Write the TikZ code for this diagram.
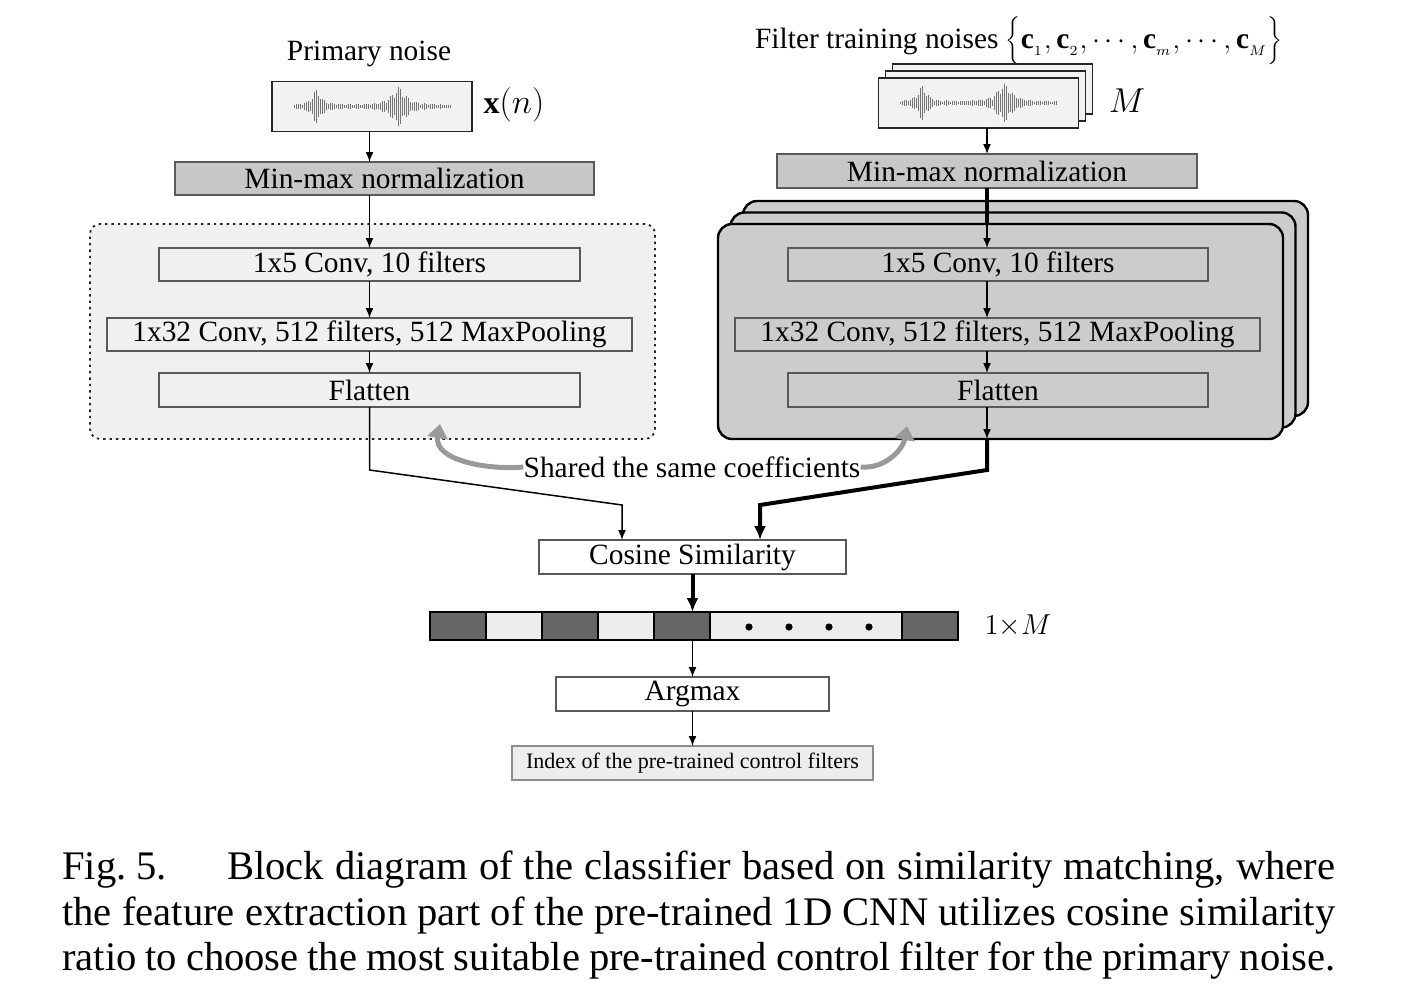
\documentclass[tikz,border=0pt]{standalone}
\usepackage{fontspec}
\setmainfont{Liberation Serif}
\usetikzlibrary{arrows.meta,calc}

\tikzset{
  blk/.style={draw=black!65, line width=0.75pt, inner sep=0pt, outer sep=0pt, minimum height=16.5pt, font=\fontsize{14.7}{17}\selectfont},
  normbox/.style={blk, fill=black!22},
  lightbox/.style={blk, fill=black!6},
  greybox/.style={blk, fill=black!20},
  whitebox/.style={blk, fill=white},
  wavebox/.style={draw=black!85, line width=0.75pt, fill=black!5, inner sep=0pt, outer sep=0pt, minimum width=100pt, minimum height=25pt},
  cnnback/.style={draw=black, line width=1.2pt, fill=black!20, rounded corners=7pt, inner sep=0pt, outer sep=0pt, minimum width=282.5pt, minimum height=107.5pt},
  wire/.style={line width=0.75pt, -{Latex[length=5pt,width=4pt]}},
  thickwire/.style={line width=2pt, -{Latex[length=7pt,width=6pt]}},
  sharearrow/.style={draw=black!40, line width=2.5pt, -{Triangle[length=7pt,width=10pt]}},
  lbl/.style={font=\fontsize{14.7}{17}\selectfont, inner sep=0pt},
  caption/.style={anchor=base west, inner sep=0pt, font=\fontsize{20.3}{24}\selectfont},
}

% little noise burst drawn inside a wave box
\newcommand\noisewave[1]{%
  \begin{scope}[shift={(#1.center)}]
    \foreach \i in {0,...,78}{
      \pgfmathsetmacro\h{(1.5+16/(1+((\i-11)/2.5)^2)+18/(1+((\i-52)/4)^2))*(0.45+0.55*abs(sin(\i*137)))}
      \draw[black!55, line width=0.5pt] ({(\i-39)*2},-\h) -- ({(\i-39)*2},\h);
    }
  \end{scope}}

\begin{document}
\begin{tikzpicture}[x=0.5pt,y=-0.5pt]
\useasboundingbox (0,0) rectangle (1418,1006);

% left branch: primary noise
\node[lbl] (primary) at (369,54) {Primary noise};
\node[wavebox] (wavL) at (372,106.5) {};
\noisewave{wavL}
\node[lbl, font=\fontsize{16}{18}\selectfont] (xn) at (514,105) {$\mathbf{x}(n)$};
\node[normbox, minimum width=209.5pt] (normL) at (384.5,178.5) {Min-max normalization};
\node[cnnback, dotted, draw=black!85, line width=0.9pt, fill=black!6, rounded corners=5pt] (cnnL) at (372.5,331.5) {};
\node[lightbox, minimum width=210.5pt] (convL) at (369.5,264.5) {1x5 Conv, 10 filters};
\node[lightbox, minimum width=262.5pt] (poolL) at (369.5,334.5) {1x32 Conv, 512 filters, 512 MaxPooling};
\node[lightbox, minimum width=210.5pt, minimum height=17pt] (flatL) at (369.5,390) {Flatten};
\draw[wire] (convL.north |- wavL.south) -- (convL.north |- normL.north);
\draw[wire] (convL.north |- normL.south) -- (convL.north);
\draw[wire] (convL.south) -- (poolL.north);
\draw[wire] (poolL.south) -- (flatL.north);

% right branch: filter training noises
\node[lbl] (filt) at (1019,41) {Filter training noises $\bigg\{\mathbf{c}_{_1},\mathbf{c}_{_2},\cdots,\mathbf{c}_{_m},\cdots,\mathbf{c}_{_M}\bigg\}$};
\foreach \d in {14,7} \node[wavebox] at (978.5+\d,103-\d) {};
\node[wavebox] (wavR) at (978.5,103) {};
\noisewave{wavR}
\node[lbl, font=\fontsize{16}{18}\selectfont] (mR) at (1127,101) {$M$};
\node[normbox, minimum width=210pt, minimum height=17pt] (normR) at (987,171) {Min-max normalization};
\foreach \d/\e in {25/23,12.5/11.5} \node[cnnback] at (1000.5+\d,331.5-\e) {};
\node[cnnback] (cnnR) at (1000.5,331.5) {};
\node[greybox, minimum width=210pt] (convR) at (998,264.5) {1x5 Conv, 10 filters};
\node[greybox, minimum width=262.5pt] (poolR) at (997.5,334.5) {1x32 Conv, 512 filters, 512 MaxPooling};
\node[greybox, minimum width=210pt, minimum height=17pt] (flatR) at (998,390) {Flatten};
\draw[wire] (normR.south |- wavR.south) -- (normR.north);
\draw[line width=2pt] (normR.south) -- (normR.south |- cnnR.north);
\draw[wire] (normR.south |- cnnR.north) -- (normR.south |- convR.north);
\draw[wire] (normR.south |- convR.south) -- (normR.south |- poolR.north);
\draw[wire] (normR.south |- poolR.south) -- (normR.south |- flatR.north);
\draw[wire] (normR.south |- flatR.south) -- (normR.south |- cnnR.south);

% shared coefficients
\node[lbl] (shared) at (692,467) {Shared the same coefficients};
\draw[sharearrow] (shared.west) to[out=185,in=-100] (440,424);
\draw[sharearrow] (shared.east) to[out=-5,in=-100] (907,426);

% similarity and argmax
\node[whitebox, minimum width=153.5pt, minimum height=17pt] (cos) at (692.5,557) {Cosine Similarity};
\coordinate (jL) at (622,505);
\coordinate (jR) at (760,505);
\draw[wire] (flatL.south) -- ++(0,63) -- (jL) -- (jL |- cos.north);
\draw[thickwire] (normR.south |- cnnR.south) -- ++(0,31) -- (jR) -- (jR |- cos.north);

\foreach \xa/\xb/\c in {430/486/black!60, 486/542/black!7, 542/598/black!60, 598/654/black!7, 654/710/black!60, 710/902/black!7, 902/958/black!60}
  \draw[fill=\c, line width=0.9pt] (\xa,612) rectangle (\xb,640);
\foreach \x in {749,789,829,869} \fill (\x,627) circle (1.8pt);
\node[draw, line width=0.9pt, inner sep=0pt, outer sep=0pt, minimum width=264pt, minimum height=14pt] (bar) at (694,626) {};
\node[lbl, font=\fontsize{15}{18}\selectfont] (size) at (1018,626) {$1{\times}M$};
\node[whitebox, minimum width=136.5pt, minimum height=17pt] (argmax) at (692.5,694) {Argmax};
\node[blk, draw=black!45, line width=1.1pt, fill=black!7, minimum width=180.5pt, minimum height=17pt, font=\fontsize{11}{13}\selectfont] (idx) at (692.5,763) {Index of the pre-trained control filters};
\draw[thickwire] (cos.south) -- (cos.south |- bar.north);
\draw[wire] (cos.south |- bar.south) -- (argmax.north);
\draw[wire] (argmax.south) -- (idx.north);

% caption
\node[caption] (cap1) at (62,879) {\makebox[636.5pt][s]{Fig.\kern5pt5.\kern30pt Block diagram of the classifier based on similarity matching, where}};
\node[caption] (cap2) at (62,925) {\makebox[636.5pt][s]{the feature extraction part of the pre-trained 1D CNN utilizes cosine similarity}};
\node[caption] (cap3) at (62,970) {\makebox[636.5pt][s]{ratio to choose the most suitable pre-trained control filter for the primary noise.}};
\end{tikzpicture}
\end{document}
